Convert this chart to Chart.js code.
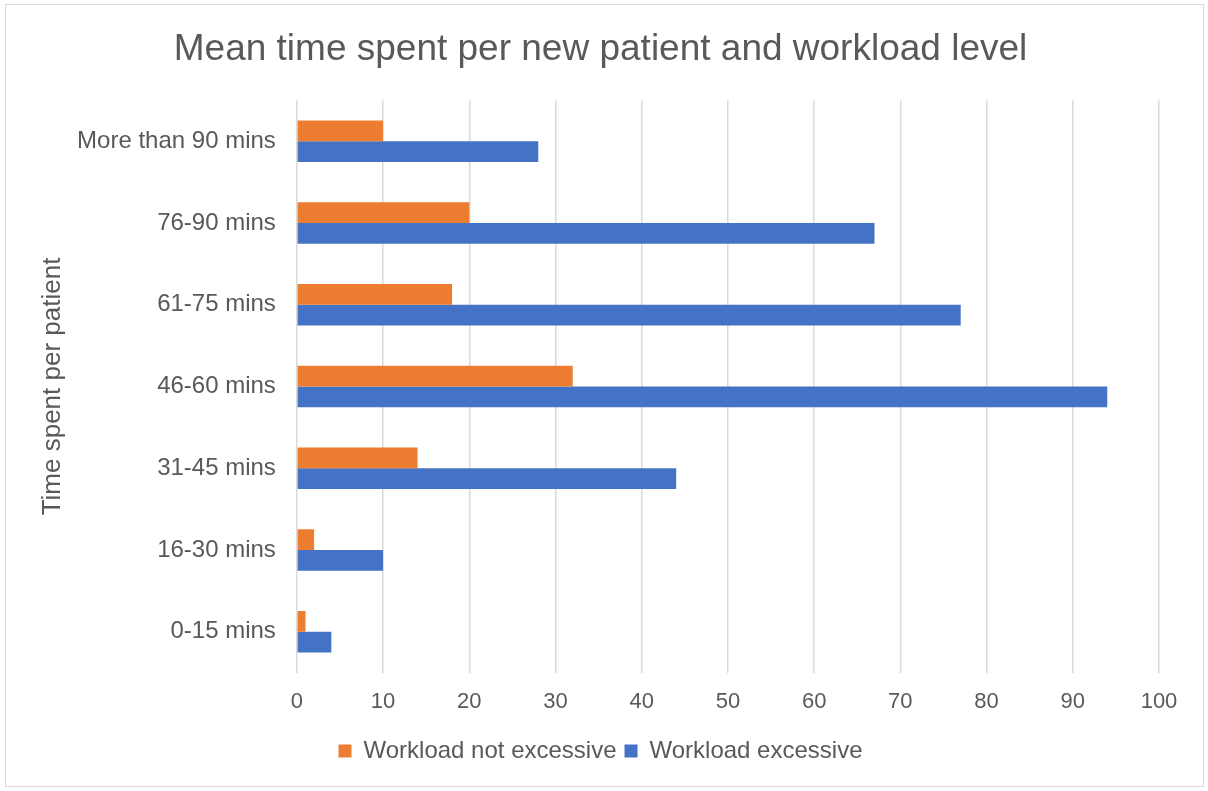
<!DOCTYPE html>
<html lang="en">
<head>
    <meta charset="UTF-8">
    <title>Mean time spent per new patient</title>
    <style>
        body { margin: 0; background: #fff; }
        #frame { position: absolute; left: 5px; top: 4px; width: 1197px; height: 781px; border: 1px solid #d9d9d9; }
        #myCanvas { position: absolute; left: 0; top: 0; }
    </style>
</head>
<body>
    <div id="frame"></div>
    <canvas id="myCanvas" width="1208" height="791"></canvas>
    <script src="https://cdn.jsdelivr.net/npm/chart.js@4/dist/chart.umd.min.js"></script>
    <script>
        // categories top to bottom
        const categories = ['More than 90 mins', '76-90 mins', '61-75 mins', '46-60 mins', '31-45 mins', '16-30 mins', '0-15 mins'];
        const notExcessive = [10, 20, 18, 32, 14, 2, 1];
        const excessive = [28, 67, 77, 94, 44, 10, 4];

        const grey = '#595959';
        Chart.defaults.font.family = '"Liberation Sans", Arial, sans-serif';
        Chart.defaults.color = grey;

        var ctx = document.getElementById('myCanvas').getContext('2d');
        var myChart = new Chart(ctx, {
            type: 'bar',
            data: {
                labels: categories,
                datasets: [{
                    label: 'Workload not excessive',
                    backgroundColor: '#ed7d31',
                    data: notExcessive
                }, {
                    label: 'Workload excessive',
                    backgroundColor: '#4472c4',
                    data: excessive
                }]
            },
            options: {
                indexAxis: 'y',
                responsive: false,
                animation: false,
                devicePixelRatio: 1,
                barPercentage: 1,
                categoryPercentage: 0.51,
                layout: { padding: { left: 42, right: 49, top: 10, bottom: 18 } },
                plugins: {
                    title: {
                        display: true,
                        text: 'Mean time spent per new patient and workload level',
                        font: { size: 37, weight: 'normal' },
                        color: grey,
                        padding: { top: 18, bottom: 28 }
                    },
                    legend: {
                        position: 'bottom',
                        labels: {
                            font: { size: 24 },
                            color: grey,
                            boxWidth: 13,
                            boxHeight: 13,
                            padding: 8
                        }
                    },
                    tooltip: { enabled: false }
                },
                scales: {
                    x: {
                        min: 0,
                        max: 100,
                        ticks: { stepSize: 10, font: { size: 22 }, color: grey, padding: 16, maxRotation: 0 },
                        grid: { color: '#d9d9d9', lineWidth: 1.5, drawTicks: false },
                        border: { display: false }
                    },
                    y: {
                        ticks: { font: { size: 24 }, color: grey, padding: 13 },
                        grid: { display: false },
                        border: { display: false },
                        title: {
                            display: true,
                            text: 'Time spent per patient',
                            font: { size: 26, lineHeight: 0.85 },
                            color: grey,
                            padding: 0
                        }
                    }
                }
            }
        });
    </script>
</body>
</html>
